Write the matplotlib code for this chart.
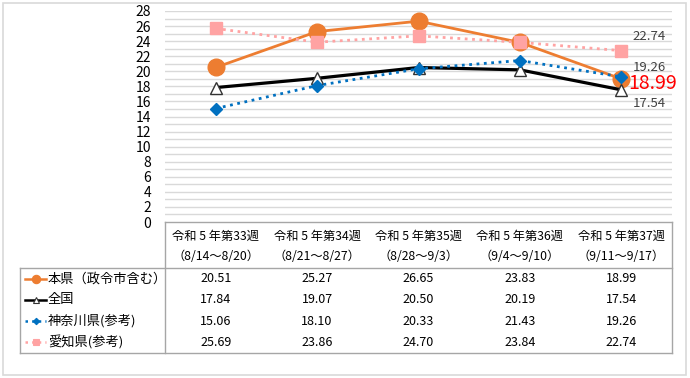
import matplotlib
matplotlib.use("Agg")
import matplotlib.pyplot as plt
from matplotlib.patches import Rectangle
from matplotlib.lines import Line2D

plt.rcParams["font.family"] = ["Noto Sans CJK JP", "DejaVu Sans"]

# データ
weeks = ["令和 5 年第33週", "令和 5 年第34週", "令和 5 年第35週", "令和 5 年第36週", "令和 5 年第37週"]
periods = ["（8/14～8/20）", "（8/21～8/27）", "（8/28～9/3）", "（9/4～9/10）", "（9/11～9/17）"]
series_names = ["本県（政令市含む）", "全国", "神奈川県(参考)", "愛知県(参考)"]
honken = [20.51, 25.27, 26.65, 23.83, 18.99]
zenkoku = [17.84, 19.07, 20.50, 20.19, 17.54]
kanagawa = [15.06, 18.10, 20.33, 21.43, 19.26]
aichi = [25.69, 23.86, 24.70, 23.84, 22.74]
y_ticks = list(range(0, 29, 2))

W, H = 690, 378
fig = plt.figure(figsize=(W / 100, H / 100), dpi=100)

# 外枠
fig.patches.append(Rectangle((3 / W, 3 / H), 683 / W, 372 / H, transform=fig.transFigure,
                             fill=False, edgecolor="#D9D9D9", linewidth=1.2))

# グラフ本体
x0, x1 = 165, 672
ytop, ybot = 11, 222
ax = fig.add_axes([x0 / W, 1 - ybot / H, (x1 - x0) / W, (ybot - ytop) / H])
ax.set_xlim(-0.5, 4.5)
ax.set_ylim(0, 28)
for v in range(1, 29):
    ax.axhline(v, color="#D9D9D9", linewidth=1.0, zorder=0)
for s in ax.spines.values():
    s.set_visible(False)
ax.set_xticks([])
ax.set_yticks(y_ticks)
ax.tick_params(axis="y", length=0, pad=10, labelsize=10, labelcolor="#000000")

xs = list(range(len(weeks)))
styles = [
    dict(data=honken, color="#ED7D31", ls="-", lw=2.0, marker="o", ms=12, mfc="#ED7D31", mec="#ED7D31"),
    dict(data=zenkoku, color="#000000", ls="-", lw=2.3, marker="^", ms=9, mfc="white", mec="#333333"),
    dict(data=kanagawa, color="#0070C0", ls=":", lw=2.0, marker="D", ms=6.5, mfc="#0070C0", mec="#0070C0"),
    dict(data=aichi, color="#FFA3A3", ls=":", lw=2.0, marker="s", ms=8.5, mfc="#FFA3A3", mec="#FFA3A3"),
]
# Excelと同じく後の系列が上に重なる
for z, st in enumerate(styles):
    ax.plot(xs, st["data"], color=st["color"], linestyle=st["ls"], linewidth=st["lw"],
            marker=st["marker"], markersize=st["ms"], markerfacecolor=st["mfc"],
            markeredgecolor=st["mec"], markeredgewidth=1.0, zorder=2 + z, clip_on=False)

# 最終週のラベル
last = len(weeks) - 1
ax.annotate(f"{aichi[last]:.2f}", (last, aichi[last]), xytext=(8, 10), textcoords="offset points",
            fontsize=9.5, color="#404040", va="center", ha="left")
ax.annotate(f"{kanagawa[last]:.2f}", (last, kanagawa[last]), xytext=(8, 7), textcoords="offset points",
            fontsize=9.5, color="#404040", va="center", ha="left")
ax.annotate(f"{honken[last]:.2f}", (last, honken[last]), xytext=(5, -3), textcoords="offset points",
            fontsize=14, color="#FF0000", va="center", ha="left", zorder=10)
ax.annotate(f"{zenkoku[last]:.2f}", (last, zenkoku[last]), xytext=(8, -10), textcoords="offset points",
            fontsize=9.5, color="#404040", va="center", ha="left")

# データテーブル
tl, tr = 20, 672
ttop, thead, tbot = 222, 268, 353
tax = fig.add_axes([tl / W, 1 - tbot / H, (tr - tl) / W, (tbot - ttop) / H])
tax.set_xlim(tl, tr)
tax.set_ylim(tbot, ttop)
tax.axis("off")
gc = "#A6A6A6"
tax.plot([x0, tr], [ttop, ttop], color=gc, lw=1.0, clip_on=False)
tax.plot([tl, tr], [thead, thead], color=gc, lw=1.0, clip_on=False)
tax.plot([tl, tr], [tbot, tbot], color=gc, lw=1.0, clip_on=False)
tax.plot([x0, x0], [ttop, tbot], color=gc, lw=1.0, clip_on=False)
tax.plot([tr, tr], [ttop, tbot], color=gc, lw=1.0, clip_on=False)
tax.plot([tl, tl], [thead, tbot], color=gc, lw=1.0, clip_on=False)

colw = (tr - x0) / len(weeks)
for i, (wk, pr) in enumerate(zip(weeks, periods)):
    cx = x0 + colw * (i + 0.5)
    tax.text(cx, 236, wk, ha="center", va="center", fontsize=8.8)
    tax.text(cx, 257, pr, ha="center", va="center", fontsize=8.8)

row_h = (tbot - thead) / len(series_names)
for r, (name, st) in enumerate(zip(series_names, styles)):
    cy = thead + row_h * (r + 0.5)
    tax.add_line(Line2D([25, 46], [cy, cy], color=st["color"], linestyle=st["ls"], linewidth=1.8,
                        clip_on=False))
    tax.plot([36], [cy], marker=st["marker"], markersize=st["ms"] * 0.5, markerfacecolor=st["mfc"],
             markeredgecolor=st["mec"], markeredgewidth=0.8, clip_on=False)
    tax.text(48, cy, name, ha="left", va="center", fontsize=9.5)
    for i, v in enumerate(st["data"]):
        cx = x0 + colw * (i + 0.5)
        tax.text(cx, cy, f"{v:.2f}", ha="center", va="center", fontsize=9)

fig.savefig("out.png", dpi=100)
